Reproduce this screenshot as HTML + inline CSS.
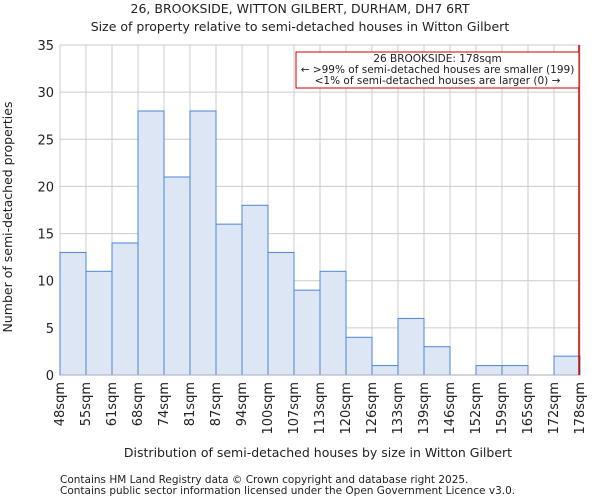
<!DOCTYPE html>
<html><head><meta charset="utf-8"><style>
body{margin:0;background:#fff;font-family:"DejaVu Sans","Liberation Sans",sans-serif;}
svg text{font-family:"DejaVu Sans","Liberation Sans",sans-serif;fill:#222;}
</style></head><body>
<svg id="chart" width="600" height="500" viewBox="0 0 600 500">
<text x="300" y="13" text-anchor="middle" font-size="12.5">26, BROOKSIDE, WITTON GILBERT, DURHAM, DH7 6RT</text>
<text x="300" y="31" text-anchor="middle" font-size="12.5">Size of property relative to semi-detached houses in Witton Gilbert</text>
<g id="grid"></g><g id="bars"></g><g id="axes"></g>
<text transform="translate(12,217) rotate(-90)" text-anchor="middle" font-size="12.5">Number of semi-detached properties</text>
<text x="318" y="457" text-anchor="middle" font-size="12.5">Distribution of semi-detached houses by size in Witton Gilbert</text>
<text x="60" y="483" font-size="10.5" fill="#444">Contains HM Land Registry data © Crown copyright and database right 2025.</text>
<text x="60" y="494" font-size="10.5" fill="#444">Contains public sector information licensed under the Open Government Licence v3.0.</text>
<g id="annot"></g>
</svg>
<script>
const categories=["48sqm","55sqm","61sqm","68sqm","74sqm","81sqm","87sqm","94sqm","100sqm","107sqm","113sqm","120sqm","126sqm","133sqm","139sqm","146sqm","152sqm","159sqm","165sqm","172sqm","178sqm"];
const counts=[13,11,14,28,21,28,16,18,13,9,11,4,1,6,3,0,1,1,0,2];
const yTicks=[0,5,10,15,20,25,30,35];
const markerIndex=20;
const X0=60,X1=580,Y0=375,Y1=45,YMAX=35;
const nb=counts.length,bw=(X1-X0)/nb;
const xs=i=>X0+i*bw, ys=v=>Y0-(Y0-Y1)*v/YMAX;
const NS="http://www.w3.org/2000/svg";
function mk(tag,parent,attrs){const e=document.createElementNS(NS,tag);for(const k in attrs)e.setAttribute(k,attrs[k]);document.getElementById(parent).appendChild(e);return e;}
yTicks.forEach(t=>{
 const l=mk('line','grid',{x1:X0,x2:X1,y1:ys(t),y2:ys(t),stroke:'#ccc','stroke-width':1});
 
 
 const tx=mk('text','axes',{x:X0-6,y:ys(t)+5,'text-anchor':'end','font-size':13});
 tx.textContent=t;
 
 
});
categories.forEach((c,i)=>{
 const l=mk('line','grid',{x1:xs(i),x2:xs(i),y1:Y1,y2:Y0,stroke:'#ccc','stroke-width':1});
 
 
 const x=xs(i)+4;
 const tx=mk('text','axes',{x:x,y:382,'text-anchor':'end','font-size':13,transform:`rotate(-90 ${x} 382)`});
 tx.textContent=c;
 
 
});
counts.forEach((v,i)=>{
 if(v<=0)return;
 const r=mk('rect','bars',{x:xs(i),y:ys(v),width:bw,height:Y0-ys(v),fill:'#dce6f4',stroke:'#4a86d8','stroke-width':1});
 
 
});
const ax=mk('line','axes',{x1:X0,x2:X1,y1:Y0,y2:Y0,stroke:'#aab','stroke-width':1});


const mx=xs(markerIndex)-1;
const ml=mk('line','annot',{x1:mx,x2:mx,y1:Y1,y2:Y0,stroke:'#c00','stroke-width':1.5});


const box=mk('rect','annot',{x:296,y:52,width:mx-296,height:36,fill:'#fff',stroke:'#c00','stroke-width':1});


["26 BROOKSIDE: 178sqm","← >99% of semi-detached houses are smaller (199)","<1% of semi-detached houses are larger (0) →"].forEach((s,k)=>{
 const t=mk('text','annot',{x:(296+mx)/2,y:62+k*11,'text-anchor':'middle','font-size':10.5});
 t.textContent=s;
 
 
});
</script>
</body></html>
